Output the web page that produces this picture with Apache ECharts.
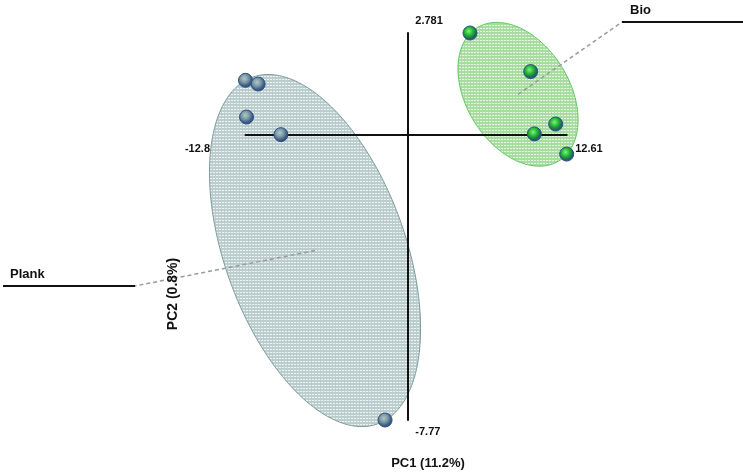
<!DOCTYPE html>
<html>
<head>
<meta charset="utf-8">
<script src="https://cdn.jsdelivr.net/npm/echarts@6/dist/echarts.min.js"></script>
<style>html,body{margin:0;padding:0;background:#fff}#c{width:743px;height:472px}</style>
</head>
<body>
<div id="c"></div>
<script>
// ---- data ----
const groups = ['Plank', 'Bio'];
const plankX = [-12.8, -11.8, -12.72, -10.0, -1.76];
const plankY = [1.49, 1.39, 0.49, 0.01, -7.77];
const bioX = [4.96, 9.76, 11.74, 10.05, 12.61];
const bioY = [2.781, 1.73, 0.30, 0.03, -0.52];
// confidence ellipses (data units): centre, half-extent x/y, correlation
const ellCX = [-7.3, 8.76];
const ellCY = [-3.15, 1.11];
const ellSX = [8.35, 4.75];
const ellSY = [4.8, 1.96];
const ellRho = [-0.444, -0.355];
// axis extents / end labels
const xMin = -12.8, xMax = 12.61;
const yMin = -7.77, yMax = 2.781;
const endLabelText = ['-12.8', '12.61', '2.781', '-7.77'];
const endLabelX = [xMin, xMax, 0, 0];
const endLabelY = [0, 0, yMax, yMin];
const xTitle = 'PC1 (11.2%)';
const yTitle = 'PC2 (0.8%)';

// ---- styling helpers ----
function makePattern(base, dot) {
  const c = document.createElement('canvas');
  c.width = 3; c.height = 3;
  const g = c.getContext('2d');
  g.fillStyle = base; g.fillRect(0, 0, 3, 3);
  g.fillStyle = dot; g.fillRect(1, 1, 1, 1); g.fillRect(0, 1, 1, 1);
  return c;
}
const fills = [
  { image: makePattern('#bccdcd', '#eef3f3'), repeat: 'repeat' },
  { image: makePattern('#a8dca0', '#e6f7e3'), repeat: 'repeat' }
];
const strokes = ['#7d9c9c', '#5fc85f'];
const anchors = [[135, 286, 3, 286], [622, 22, 743, 22]]; // label leader layout (px)
const labelPos = [[10, 274], [630, 10]];
const endLabelOffset = [[-35.5, 14, 'right'], [8.5, 14, 'left'], [8, -12, 'left'], [8, 12, 'left']];

const sphere = (c0, c1, c2, c3) => ({
  type: 'radial', x: 0.42, y: 0.38, r: 0.62,
  colorStops: [
    { offset: 0, color: c0 }, { offset: 0.45, color: c1 },
    { offset: 0.75, color: c2 }, { offset: 1, color: c3 }
  ]
});

const chart = echarts.init(document.getElementById('c'));
const font = '"Liberation Sans", Arial, sans-serif';

chart.setOption({
  animation: false,
  backgroundColor: '#ffffff',
  grid: { left: 245.5, right: 176.3, top: 33, bottom: 52, containLabel: false },
  xAxis: {
    type: 'value', min: xMin, max: xMax, z: 3,
    splitLine: { show: false }, axisTick: { show: false }, axisLabel: { show: false },
    axisLine: { onZero: true, lineStyle: { color: '#111', width: 2 } }
  },
  yAxis: {
    type: 'value', min: yMin, max: yMax, z: 3,
    splitLine: { show: false }, axisTick: { show: false }, axisLabel: { show: false },
    axisLine: { onZero: true, lineStyle: { color: '#111', width: 2 } }
  },
  series: [
    {
      type: 'custom', z: 1, silent: true, clip: false,
      data: groups.map((g, i) => [ellCX[i], ellCY[i]]),
      encode: { x: 0, y: 1 },
      renderItem(params, api) {
        const i = params.dataIndex;
        const pts = [];
        const n = 160, r = ellRho[i], s = Math.sqrt(1 - r * r);
        for (let k = 0; k < n; k++) {
          const t = 2 * Math.PI * k / n;
          const x = ellCX[i] + ellSX[i] * Math.cos(t);
          const y = ellCY[i] + ellSY[i] * (r * Math.cos(t) + s * Math.sin(t));
          pts.push(api.coord([x, y]));
        }
        return {
          type: 'polygon', shape: { points: pts },
          style: { fill: fills[i], stroke: strokes[i], lineWidth: 1 }
        };
      }
    },
    {
      type: 'custom', z: 4, silent: true, clip: false,
      data: groups.map((g, i) => [ellCX[i], ellCY[i]]),
      encode: { x: 0, y: 1 },
      renderItem(params, api) {
        const i = params.dataIndex;
        const c = api.coord([ellCX[i], ellCY[i]]);
        const a = anchors[i];
        return {
          type: 'group', children: [
            { type: 'line', shape: { x1: c[0], y1: c[1], x2: a[0], y2: a[1] },
              style: { stroke: '#9a9a9a', lineWidth: 1.5, lineDash: [4, 3] } },
            { type: 'line', shape: { x1: a[0], y1: a[1], x2: a[2], y2: a[3] },
              style: { stroke: '#111', lineWidth: 2 } },
            { type: 'text', x: labelPos[i][0], y: labelPos[i][1],
              style: { text: groups[i], fill: '#111', font: 'bold 13px ' + font,
                       textAlign: 'left', textVerticalAlign: 'middle' } }
          ]
        };
      }
    },
    {
      // axis end-value labels, placed at the axis extremes
      type: 'custom', z: 6, silent: true, clip: false,
      data: endLabelText.map((t, i) => [endLabelX[i], endLabelY[i]]),
      encode: { x: 0, y: 1 },
      renderItem(params, api) {
        const i = params.dataIndex;
        const p = api.coord([endLabelX[i], endLabelY[i]]);
        const o = endLabelOffset[i];
        return {
          type: 'text', x: p[0] + o[0], y: p[1] + o[1],
          style: { text: endLabelText[i], fill: '#111', font: 'bold 11px ' + font,
                   textAlign: o[2], textVerticalAlign: 'middle' }
        };
      }
    },
    {
      name: 'Plank', type: 'scatter', z: 5, symbolSize: 14,
      data: plankX.map((x, i) => [x, plankY[i]]),
      itemStyle: { color: sphere('#b3c7c9', '#7896a0', '#3f6088', '#2b4a82'),
                   borderColor: '#2f4f86', borderWidth: 1, opacity: 1 }
    },
    {
      name: 'Bio', type: 'scatter', z: 5, symbolSize: 14,
      data: bioX.map((x, i) => [x, bioY[i]]),
      itemStyle: { color: sphere('#7ef27e', '#23b534', '#1f6f52', '#2b4a82'),
                   borderColor: '#2f4f86', borderWidth: 1, opacity: 1 }
    }
  ],
  graphic: [
    { type: 'text', x: 428, y: 463, z: 10,
      style: { text: xTitle, fill: '#111', font: 'bold 13px ' + font,
               textAlign: 'center', textVerticalAlign: 'middle' } },
    { type: 'text', x: 173, y: 294, z: 10, rotation: Math.PI / 2,
      style: { text: yTitle, fill: '#111', font: 'bold 14px ' + font,
               textAlign: 'center', textVerticalAlign: 'middle' } }
  ]
});
</script>
</body>
</html>
